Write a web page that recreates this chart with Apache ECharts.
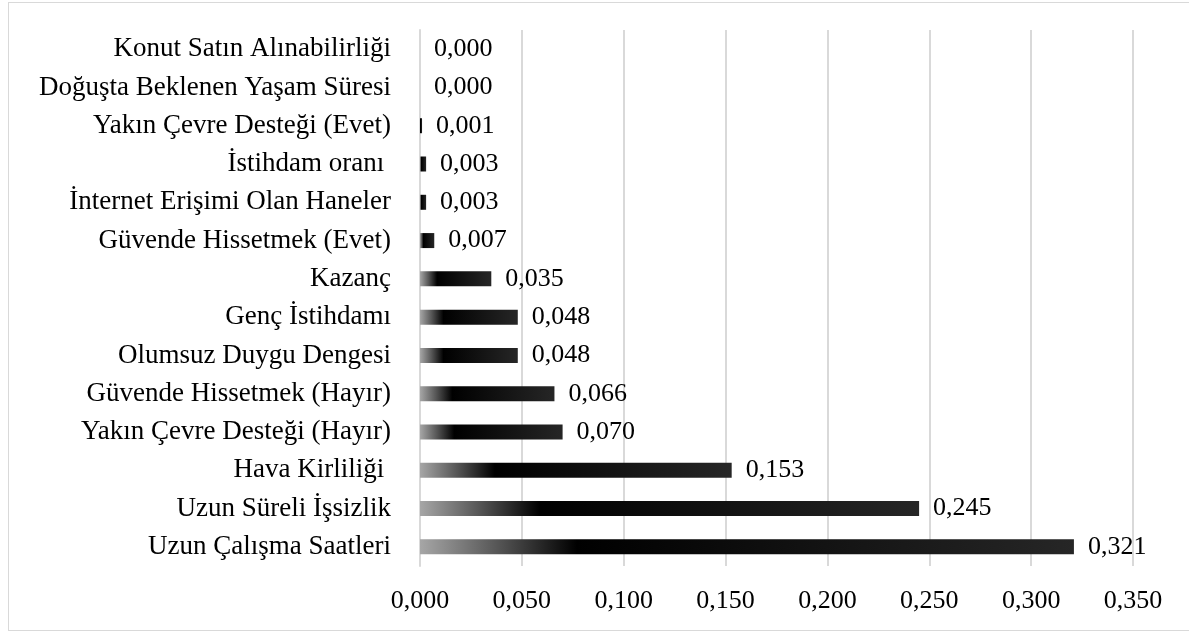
<!DOCTYPE html>
<html>
<head>
<meta charset="utf-8">
<script src="https://cdn.jsdelivr.net/npm/echarts@6/dist/echarts.min.js"></script>
<style>
html,body{margin:0;padding:0;background:#fff;}
#frame{position:absolute;left:8px;top:2px;width:1190px;height:629px;border:1px solid #d9d9d9;box-sizing:border-box;}
#chart{position:absolute;left:0;top:0;width:1189px;height:634px;}
</style>
</head>
<body>
<div id="frame"></div>
<div id="chart"></div>
<script>
// Categories listed top-to-bottom
const categories = [
  "Konut Satın Alınabilirliği",
  "Doğuşta Beklenen Yaşam Süresi",
  "Yakın Çevre Desteği (Evet)",
  "İstihdam oranı ",
  "İnternet Erişimi Olan Haneler",
  "Güvende Hissetmek (Evet)",
  "Kazanç",
  "Genç İstihdamı",
  "Olumsuz Duygu Dengesi",
  "Güvende Hissetmek (Hayır)",
  "Yakın Çevre Desteği (Hayır)",
  "Hava Kirliliği ",
  "Uzun Süreli İşsizlik",
  "Uzun Çalışma Saatleri"
];
const values = [0.000, 0.000, 0.001, 0.003, 0.003, 0.007, 0.035, 0.048, 0.048, 0.066, 0.070, 0.153, 0.245, 0.321];
const axisMin = 0, axisMax = 0.35, axisStep = 0.05;

const fmt = v => v.toFixed(3).replace('.', ',');
const FONT = '"Liberation Serif", "DejaVu Serif", serif';

const chart = echarts.init(document.getElementById('chart'), null, {renderer: 'canvas'});
chart.setOption({
  animation: false,
  backgroundColor: 'transparent',
  grid: {left: 420, right: 56, top: 30, bottom: 68, containLabel: false},
  xAxis: {
    type: 'value', min: axisMin, max: axisMax, interval: axisStep,
    axisLine: {show: false}, axisTick: {show: false},
    splitLine: {show: true, lineStyle: {color: '#d9d9d9', width: 2}},
    axisLabel: {formatter: v => fmt(v), color: '#000', fontFamily: FONT, fontSize: 26, margin: 22}
  },
  yAxis: {
    type: 'category', data: categories, inverse: true,
    axisLine: {show: true, lineStyle: {color: '#d9d9d9', width: 2}},
    axisTick: {show: false},
    axisLabel: {color: '#000', fontFamily: FONT, fontSize: 27, margin: 29}
  },
  series: [{
    type: 'bar',
    data: values,
    barWidth: 15,
    itemStyle: {
      color: new echarts.graphic.LinearGradient(0, 0, 1, 0, [
        {offset: 0, color: '#a6a6a6'},
        {offset: 0.12, color: '#555555'},
        {offset: 0.24, color: '#000000'},
        {offset: 1, color: '#262626'}
      ])
    },
    label: {
      show: true, position: 'right', distance: 14,
      formatter: p => fmt(p.value),
      color: '#000', fontFamily: FONT, fontSize: 26
    }
  }]
});
</script>
</body>
</html>
